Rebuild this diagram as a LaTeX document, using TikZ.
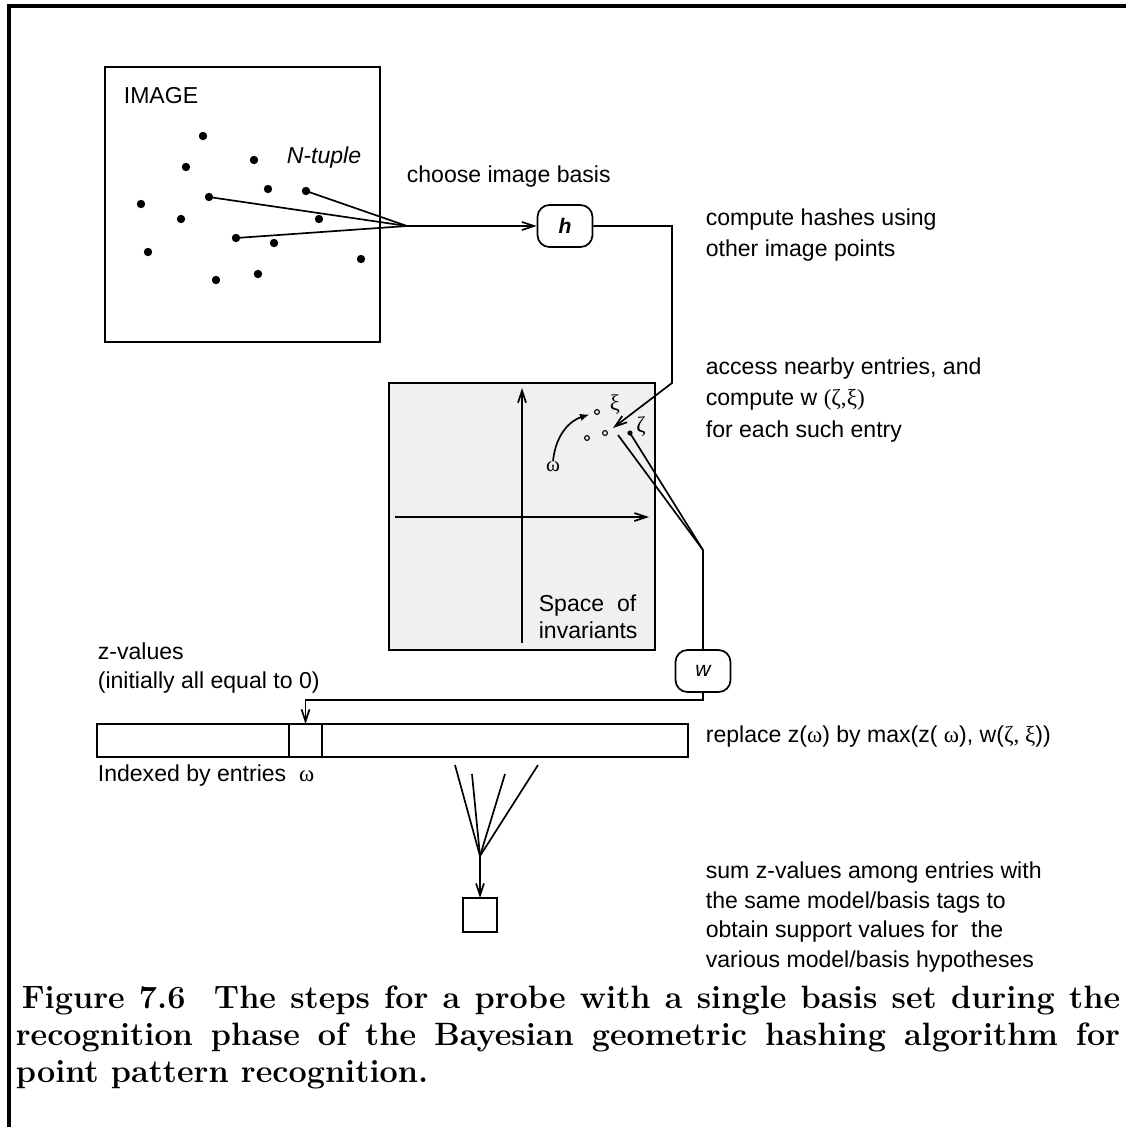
\documentclass[tikz,border=0pt]{standalone}
\usepackage{fontspec}
\setsansfont{Liberation Sans}
\newfontfamily\grk{Liberation Serif}
\usetikzlibrary{arrows.meta}

\begin{document}
\begin{tikzpicture}[
  x=0.025cm, y=-0.025cm,
  line width=1.2pt,
  note/.style={font=\sffamily\fontsize{16.4}{22.7}\selectfont,
    align=left, anchor=west, inner sep=0pt},
  pt/.style={circle, fill=black, inner sep=0pt, minimum size=0.21cm},
  opt/.style={circle, draw, line width=0.8pt, inner sep=0pt, minimum size=0.12cm},
  keybox/.style={draw, rounded corners=0.3cm, inner sep=0pt,
    minimum width=1.375cm, minimum height=1.05cm,
    font=\sffamily\fontsize{15}{18}\selectfont\itshape},
  panel/.style={draw, inner sep=0pt, outer sep=0pt},
  arr/.style={-{Straight Barb[length=0.3cm,width=0.2cm]}},
]
\useasboundingbox (0,0) rectangle (1126,1127);

%% Frame
\draw[line width=2.8pt] (9,1127) -- (9,6) -- (1126,6);

%% Image with its points
\node[panel, minimum width=6.875cm, minimum height=6.875cm] (imgbox) at (242.5,204.5) {};
\node[note] (imglbl) at (123,96) {IMAGE};
\node[note, anchor=center, font=\sffamily\itshape\fontsize{16.4}{20}\selectfont] (ntuple) at (324,158) {N-tuple};
\foreach \n/\x/\y in {1/203/136, 2/186/167, 3/254/160, 4/268/189, 5/306/191,
  6/209/197, 7/141/204, 8/181/219, 9/319/219, 10/236/238, 11/274/243,
  12/148/252, 13/361/259, 14/258/274, 15/216/280}
  \node[pt] (d\n) at (\x,\y) {};
\coordinate (basis) at (407,226);
\foreach \n in {5,6,10}
  \draw (d\n.center) -- (basis);

%% Hash function
\node[keybox, font=\sffamily\bfseries\itshape\fontsize{15}{18}\selectfont] (h) at (565,226) {h};
\draw[arr] (basis) -- (h.west);
\node[note] (choose) at (406,177) {choose image basis};
\node[note] (hashes) at (705,235) {compute hashes using\\other image points};

%% Space of invariants
\node[panel, fill=black!6, minimum width=6.65cm, minimum height=6.675cm] (invbox) at (522,516.5) {};
\coordinate (yaxb) at (522,643);
\coordinate (yaxt) at (522,388);
\coordinate (xaxl) at (395,517);
\coordinate (xaxr) at (649,517);
\draw[arr] (yaxb) -- (yaxt);
\draw[arr] (xaxl) -- (xaxr);
\node[note, font=\sffamily\fontsize{16.4}{19.1}\selectfont] (invlbl) at (538,616.5) {Space\ \ of\\invariants};

\node[opt] (c1) at (597,412) {};
\node[opt] (c2) at (587,438) {};
\node[opt] (c3) at (605,433) {};
\node[pt, minimum size=0.13cm] (zpt) at (630,433) {};
\node[inner sep=0pt, font=\grk\fontsize{16}{18}\selectfont] (xi) at (615,405) {ξ};
\node[inner sep=0pt, font=\grk\fontsize{16}{18}\selectfont] (zeta) at (641,427) {ζ};
\node[inner sep=0pt, font=\grk\fontsize{15}{18}\selectfont] (omg) at (553,467) {ω};
\draw[-{Latex[length=0.24cm,width=0.18cm]}, shorten >=0.12cm]
  (omg.north) .. controls (556,432) and (572,420) .. (c1);

\coordinate (bend) at (672,383);
\coordinate (probe) at (613,428);
\draw[arr] (h.east) -| (bend) -- (probe);
\node[note] (access) at (705,400)
  {access nearby entries, and\\compute w {\grk (ζ,ξ)}\\for each such entry};

%% Weight
\node[keybox] (w) at (703,671) {w};
\coordinate (pin) at (618,435);
\coordinate (fork) at (703,550);
\draw (pin) -- (fork);
\draw (zpt.center) -- (fork);
\draw (fork) -- (w.north);

%% z-value table
\node[note, font=\sffamily\fontsize{16.4}{20.4}\selectfont] (zlbl) at (97,668) {z-values\\(initially all equal to 0)};
\node[panel, minimum width=14.775cm, minimum height=0.825cm] (zbar) at (392.5,740.5) {};
\node[panel, minimum width=0.825cm, minimum height=0.825cm] (cell) at (305.5,740.5) {};
\draw[arr] (w.south) -- ++(0,7) -| (cell.north);
\node[note] (replace) at (705,737) {replace z({\grk ω}) by max(z( {\grk ω}), w({\grk ζ, ξ}))};
\node[note] (indexed) at (97,776) {Indexed by entries\ \ {\grk ω}};

%% Summation
\coordinate (f1) at (455,765);
\coordinate (f2) at (472,774);
\coordinate (f3) at (505,774);
\coordinate (f4) at (538,765);
\coordinate (sum) at (480,856);
\foreach \n in {1,...,4}
  \draw (f\n) -- (sum);
\node[panel, minimum width=0.85cm, minimum height=0.85cm] (tally) at (480,915) {};
\draw[arr] (sum) -- (tally.north);
\node[note, font=\sffamily\fontsize{16.4}{20.9}\selectfont] (sumtxt) at (705,917) {sum z-values among entries with\\the same model/basis tags to\\obtain support values for\ \ the\\various model/basis hypotheses};

%% Caption
\node[anchor=north west, inner sep=0pt, text width=27.6cm, align=justify,
  font=\bfseries\fontsize{23}{26.2}\selectfont] (caption) at (15,985)
  {\hspace*{0.15cm}Figure 7.6\ \ The steps for a probe with a single basis set during the\linebreak
   recognition phase of the Bayesian geometric hashing algorithm for\linebreak
   point pattern recognition.};

\end{tikzpicture}
\end{document}
